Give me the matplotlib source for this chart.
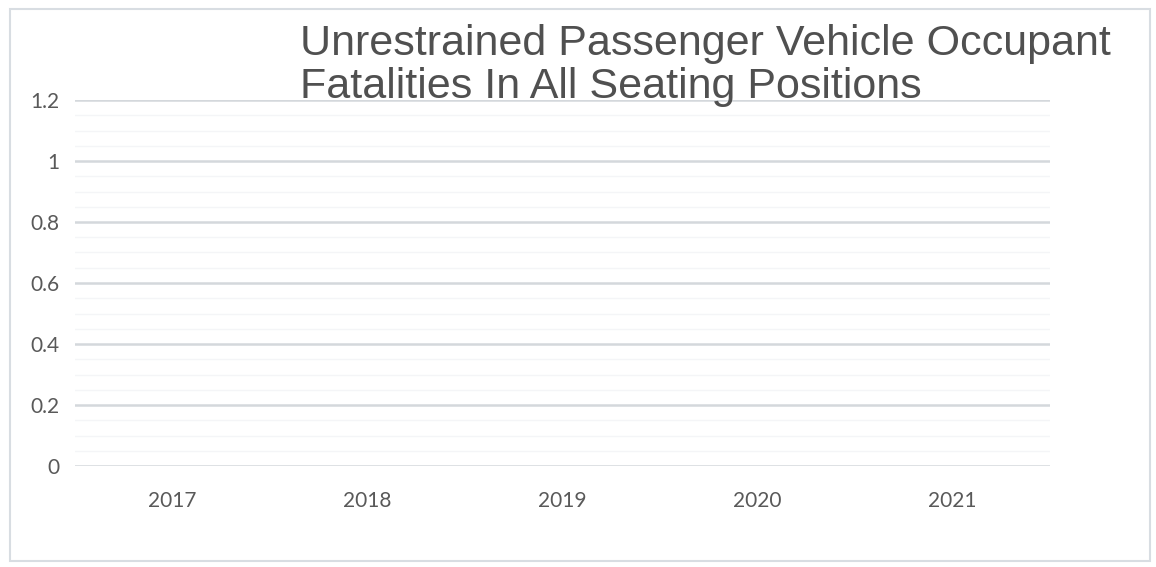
import matplotlib.pyplot as plt
import numpy as np
from matplotlib.patches import Rectangle

# chart has no data plotted, only the empty frame
years = ["2017", "2018", "2019", "2020", "2021"]
values = [0, 0, 0, 0, 0]
yticks = [0, 0.2, 0.4, 0.6, 0.8, 1, 1.2]
ytick_labels = ["0", "0.2", "0.4", "0.6", "0.8", "1", "1.2"]
title = "Unrestrained Passenger Vehicle Occupant\nFatalities In All Seating Positions"

W, H = 1156, 567
fig = plt.figure(figsize=(W / 100, H / 100), dpi=100)
fig.patch.set_facecolor("white")

# outer chart border
fig.patches.append(Rectangle((10 / W, 6 / H), 1140 / W, 552 / H, transform=fig.transFigure,
                             fill=False, edgecolor="#d8dde2", linewidth=1.5))

ax = fig.add_axes([75 / W, 1 - 466 / H, 975 / W, (466 - 100) / H])
x = np.arange(len(years))
ax.bar(x, values, width=0.6, color="#4472c4")
ax.set_xlim(-0.5, len(years) - 0.5)
ax.set_ylim(0, 1.2)
ax.set_yticks(yticks)
ax.set_yticklabels(ytick_labels)
ax.set_xticks(x)
ax.set_xticklabels(years)
ax.set_yticks(np.arange(0, 1.2, 0.05), minor=True)

for s in ax.spines.values():
    s.set_visible(False)
ax.grid(axis="y", which="major", color="#d4d8dc", linewidth=1.8)
ax.grid(axis="y", which="minor", color="#f4f5f7", linewidth=1.0)
ax.set_axisbelow(True)
ax.tick_params(axis="both", which="both", length=0)
ax.tick_params(axis="y", pad=11)
ax.tick_params(axis="x", pad=18)
for lab in ax.get_xticklabels() + ax.get_yticklabels():
    lab.set_fontfamily("Lato")
    lab.set_fontsize(15)
    lab.set_color("#595959")

fig.text(300 / W, 1 - 24 / H, title, ha="left", va="top", fontsize=31,
         family="Liberation Sans", color="#505050", linespacing=1.1)

plt.savefig("out.png", dpi=100)
